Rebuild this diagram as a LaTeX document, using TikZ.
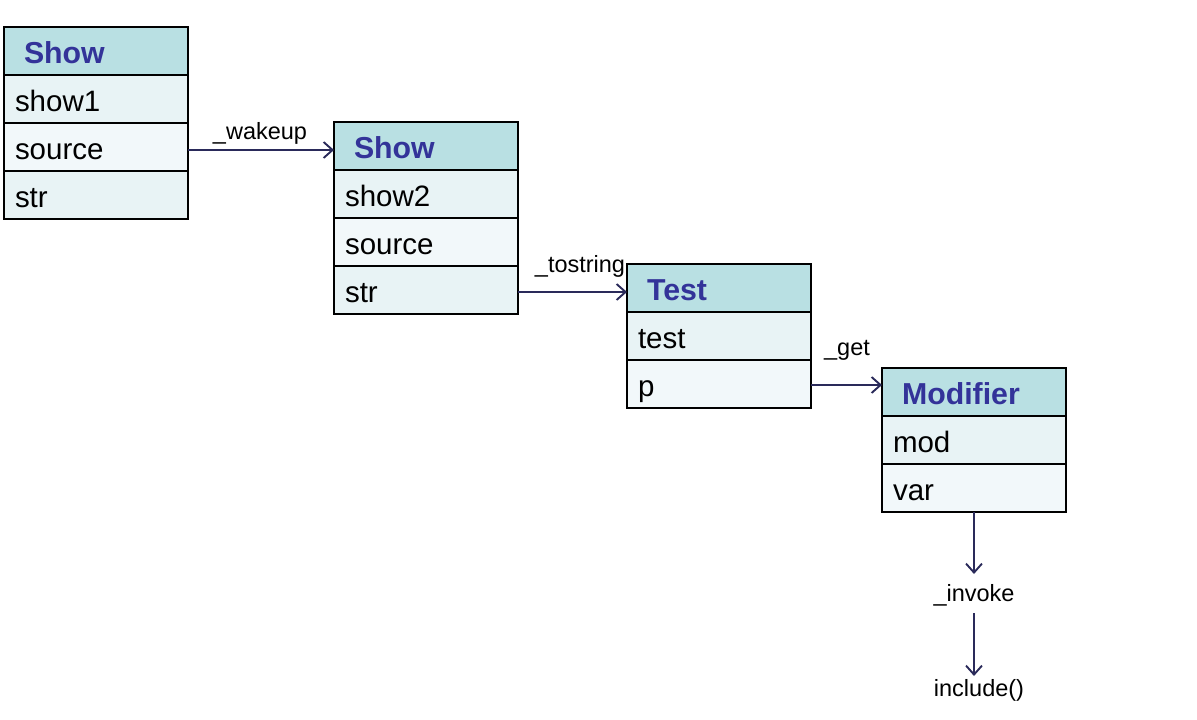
\documentclass[tikz,border=0pt]{standalone}
\usepackage{fontspec}
\setmainfont{Liberation Sans}
\usetikzlibrary{arrows.meta}
\definecolor{hdrfill}{HTML}{B9E0E3}
\definecolor{rowa}{HTML}{E8F3F5}
\definecolor{rowb}{HTML}{F2F8FA}
\definecolor{hdrtext}{HTML}{333399}
\definecolor{arrowc}{HTML}{2A2A5A}
\begin{document}
\begin{tikzpicture}[x=1pt,y=-1pt,
  cellbase/.style={draw=black, line width=2.3pt, rectangle, minimum height=48pt, align=left, outer sep=0pt, text height=25pt, text depth=0pt, inner ysep=0pt},
  hdr/.style={cellbase, fill=hdrfill, text width=144pt, inner xsep=20pt, text=hdrtext, font=\fontsize{30.3}{32}\selectfont\bfseries},
  rowA/.style={cellbase, fill=rowa, text width=162pt, inner xsep=11pt, font=\fontsize{29.5}{32}\selectfont},
  rowB/.style={rowA, fill=rowb},
  conn/.style={draw=arrowc, line width=2.1pt, -{Straight Barb[length=9pt,width=16pt,line width=1.9pt]}},
  lbl/.style={font=\fontsize{23.5}{26}\selectfont, inner sep=0pt}]
\useasboundingbox (0,0) rectangle (1197,720);
% Box 1
\node[hdr, anchor=north west] (b1h) at (4,27) {Show};
\node[rowA, anchor=north] (b1a) at (b1h.south) {show1};
\node[rowB, anchor=north] (b1b) at (b1a.south) {source};
\node[rowA, anchor=north] (b1c) at (b1b.south) {str};
% Box 2
\node[hdr, anchor=north west] (b2h) at (334,122) {Show};
\node[rowA, anchor=north] (b2a) at (b2h.south) {show2};
\node[rowB, anchor=north] (b2b) at (b2a.south) {source};
\node[rowA, anchor=north] (b2c) at (b2b.south) {str};
% Box 3
\node[hdr, anchor=north west] (b3h) at (627,264) {Test};
\node[rowA, anchor=north] (b3a) at (b3h.south) {test};
\node[rowB, anchor=north] (b3b) at (b3a.south) {p};
% Box 4
\node[hdr, anchor=north west] (b4h) at (882,368) {Modifier};
\node[rowA, anchor=north] (b4a) at (b4h.south) {mod};
\node[rowB, anchor=north] (b4b) at (b4a.south) {var};
% connectors
\coordinate (w1) at ([yshift=-3pt]b1b.east);
\draw[conn] (w1) -- (w1 -| b2h.west);
\node[lbl] (lw) at (260,133) {\_wakeup};
\coordinate (t1) at ([yshift=-2pt]b2c.east);
\draw[conn] (t1) -- (t1 -| b3h.west);
\node[lbl] (lt) at (580,266) {\_tostring};
\coordinate (g1) at ([yshift=-1pt]b3b.east);
\draw[conn] (g1) -- (g1 -| b4h.west);
\node[lbl] (lg) at (847,350) {\_get};
\node[lbl] (inv) at (974,595) {\_invoke};
\node[lbl] (inc) at (979,690) {include()};
\coordinate (a1) at (974,574);
\coordinate (a2) at (974,613);
\coordinate (a3) at (974,676);
\draw[conn] (b4b.south -| a1) -- (a1);
\draw[conn] (a2) -- (a3);
\end{tikzpicture}
\end{document}
